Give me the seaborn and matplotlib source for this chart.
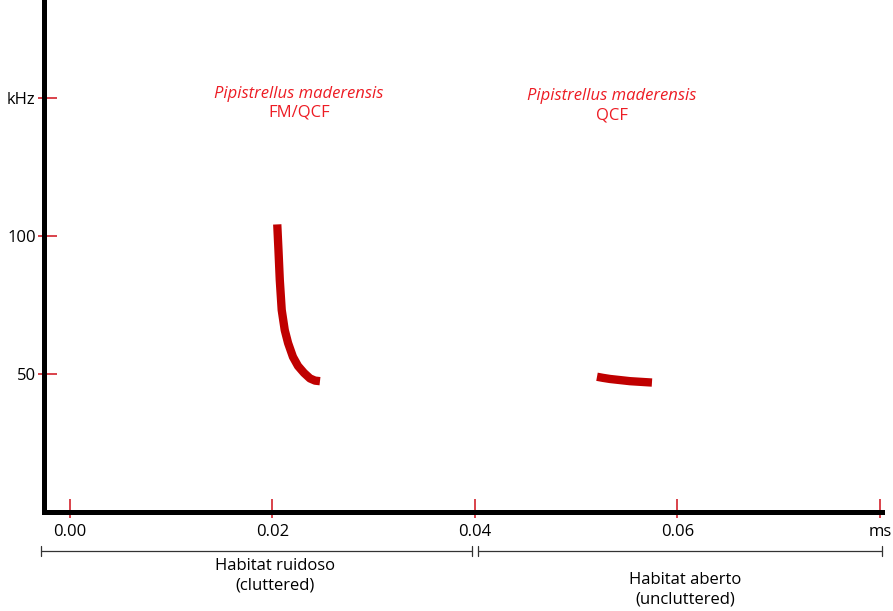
import pandas as pd
import matplotlib.pyplot as plt
import seaborn as sns

# ------------------------------------------------------------
# Data (time in ms, frequency in kHz)
# ------------------------------------------------------------
fmqcf_time = [0.02047, 0.02059, 0.02072, 0.02091, 0.02121, 0.02154,
              0.02202, 0.02252, 0.02311, 0.02370, 0.02420, 0.02469]
fmqcf_freq = [104.2, 94.9, 84.1, 73.2, 65.9, 61.2,
              56.2, 52.9, 50.4, 48.4, 47.6, 47.4]

qcf_time = [0.05205, 0.05264, 0.05333, 0.05531, 0.05748]
qcf_freq = [49.0, 48.6, 48.2, 47.4, 46.9]

x_ticks = [0.00, 0.02, 0.04, 0.06, 0.08]
x_tick_labels = ['0.00', '0.02', '0.04', '0.06', 'ms']
y_ticks = [50, 100, 150]
y_tick_labels = ['50', '100', 'kHz']

species = 'Pipistrellus maderensis'
call_types = ['FM/QCF', 'QCF']
call_label_x = [0.02262, 0.05353]
call_label_y = [(151.6, 144.6), (150.6, 143.7)]

habitat_labels = ['Habitat ruidoso\n(cluttered)', 'Habitat aberto\n(uncluttered)']
habitat_spans = [(-0.00286, 0.0397), (0.0403, 0.0802)]
habitat_label_x = [0.02025, 0.0608]
habitat_label_y = [-23.2, -28.1]

calls = pd.concat([
    pd.DataFrame({'call': 'FM/QCF', 'time': fmqcf_time, 'freq': fmqcf_freq}),
    pd.DataFrame({'call': 'QCF', 'time': qcf_time, 'freq': qcf_freq}),
])

# ------------------------------------------------------------
# Plot
# ------------------------------------------------------------
sns.set_theme(style='white')
plt.rcParams['font.family'] = ['Open Sans', 'DejaVu Sans']

CALL_RED = '#c00000'
TEXT_RED = '#ed1c24'
TICK_RED = '#d0101a'

fig = plt.figure(figsize=(8.93, 6.11), dpi=100)
ax = fig.add_axes([44 / 893, 99 / 611, 838 / 893, 512 / 611])

sns.lineplot(data=calls, x='time', y='freq', units='call', estimator=None,
             sort=False, color=CALL_RED, linewidth=6.0, ax=ax,
             solid_capstyle='butt', solid_joinstyle='round')

ax.set_xlim(-0.002568, 0.0802)
ax.set_ylim(0, 185.5)
ax.set_xlabel('')
ax.set_ylabel('')

for side in ['top', 'right']:
    ax.spines[side].set_visible(False)
for side in ['left', 'bottom']:
    ax.spines[side].set_color('black')
    ax.spines[side].set_linewidth(3.6)

# ticks: long part inside (major), short part outside (minor at same spot)
ax.set_xticks(x_ticks)
ax.set_xticklabels(x_tick_labels)
ax.set_yticks(y_ticks)
ax.set_yticklabels(y_tick_labels)
ax.set_xticks(x_ticks, minor=True)
ax.set_yticks(y_ticks, minor=True)
ax.xaxis.remove_overlapping_locs = False
ax.yaxis.remove_overlapping_locs = False
ax.tick_params(which='both', bottom=True, left=True)
ax.tick_params(which='major', direction='in', length=9.5, width=1.1,
               color=TICK_RED, labelsize=12, labelcolor='black')
ax.tick_params(which='minor', direction='out', length=4.5, width=1.1,
               color=TICK_RED)
ax.tick_params(axis='x', which='major', pad=9)
ax.tick_params(axis='y', which='major', pad=6)

# species / call type labels
for x, kind, (y_sp, y_kind) in zip(call_label_x, call_types, call_label_y):
    ax.text(x, y_sp, species, color=TEXT_RED, style='italic',
            ha='center', va='center', fontsize=12)
    ax.text(x, y_kind, kind, color=TEXT_RED,
            ha='center', va='center', fontsize=12)

# habitat brackets under the axis
for (x0, x1), label, lx, ly in zip(habitat_spans, habitat_labels,
                                   habitat_label_x, habitat_label_y):
    ax.plot([x0, x1], [-14.1, -14.1], color='#333333', lw=0.9, clip_on=False)
    for xe in (x0, x1):
        ax.plot([xe, xe], [-12.3, -15.9], color='#333333', lw=0.9, clip_on=False)
    ax.text(lx, ly, label, ha='center', va='center', fontsize=12,
            linespacing=1.3, color='black')

fig.savefig('out.png', dpi=100)
